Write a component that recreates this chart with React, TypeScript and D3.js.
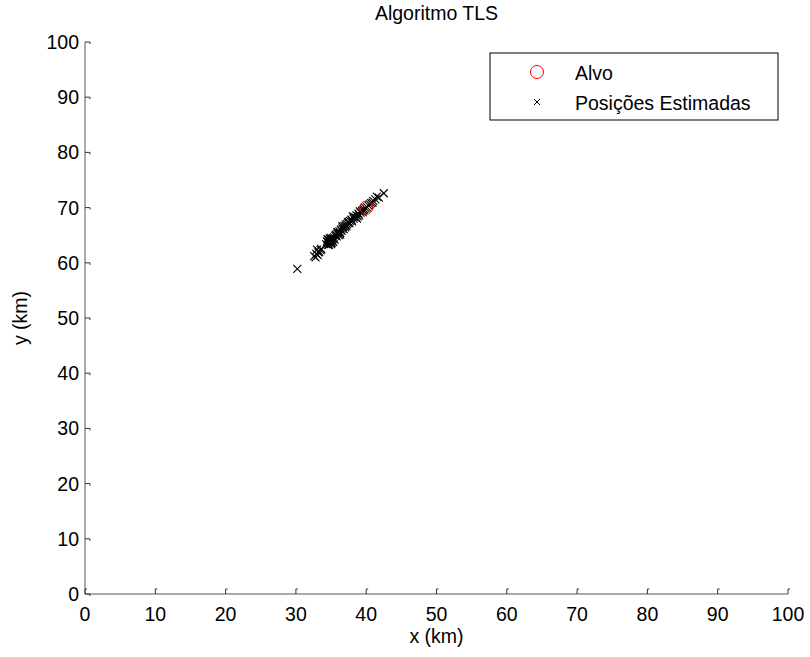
import React from "react";
import * as d3 from "d3";

const xTicks = [0, 10, 20, 30, 40, 50, 60, 70, 80, 90, 100];
const yTicks = [0, 10, 20, 30, 40, 50, 60, 70, 80, 90, 100];
const target = [40, 70];
const estX = [
  30.2, 32.6, 32.9, 33.1, 33.3, 33.5, 33.2, 32.8, 33.6, 33.0,
  34.3, 34.5, 34.6, 34.7, 34.8, 34.9, 35.0, 35.1, 34.6, 34.9, 35.2, 34.4, 35.0, 35.3, 34.7, 35.4, 35.5,
  34.5, 34.8, 35.1, 35.3, 34.6, 35.0,
  35.6, 35.7, 35.8, 35.9, 36.0, 36.1, 36.2, 36.3, 36.4, 36.5, 36.6, 36.7, 36.8, 36.9, 37.0, 37.1,
  35.9, 36.3, 36.6, 37.2, 37.5,
  37.3, 37.4, 37.6, 37.7, 37.9, 38.0, 38.2, 38.3, 38.5, 38.6, 38.8, 38.9, 39.0, 39.2, 39.4, 39.5,
  38.1, 38.7, 39.1, 39.6,
  39.7, 39.9, 40.1, 40.3, 40.5, 40.7, 41.0, 41.3, 41.5, 41.8, 42.5, 40.9,
];
const estY = [
  58.9, 61.2, 61.6, 61.4, 62.0, 62.3, 61.9, 61.0, 62.5, 62.4,
  63.4, 63.8, 63.5, 64.0, 63.7, 64.2, 63.9, 64.3, 64.1, 63.6, 64.0, 63.9, 64.5, 64.4, 63.3, 64.6, 64.2,
  64.3, 64.4, 63.6, 63.8, 63.2, 63.4,
  64.9, 65.1, 64.8, 65.3, 65.5, 65.0, 65.7, 65.4, 66.0, 65.8, 66.2, 66.5, 66.1, 66.7, 66.4, 66.9,
  65.6, 65.1, 66.6, 66.6, 67.4,
  67.0, 67.3, 67.2, 67.6, 67.8, 67.5, 68.0, 68.3, 68.2, 68.6, 68.4, 68.9, 68.6, 69.1, 69.4, 69.2,
  68.4, 68.0, 69.3, 69.5,
  69.7, 69.9, 70.1, 70.4, 70.6, 70.8, 71.2, 71.5, 72.0, 71.8, 72.6, 70.9,
];

const W = 810;
const H = 657;
const left = 85;
const right = 788;
const top = 42;
const bottom = 594;
const font = "'Liberation Sans', Arial, sans-serif";
const fs = 19.5;

export default function App() {
  const x = d3.scaleLinear().domain([0, 100]).range([left, right]);
  const y = d3.scaleLinear().domain([0, 100]).range([bottom, top]);
  const m = 4;
  const cross = (cx: number, cy: number, s: number) =>
    `M${cx - s},${cy - s}L${cx + s},${cy + s}M${cx - s},${cy + s}L${cx + s},${cy - s}`;

  return (
    <svg width={W} height={H} style={{ position: "absolute", left: 0, top: 0, background: "#fff" }}>
      <rect x={0} y={0} width={W} height={H} fill="#fff" />
      <line x1={left} y1={top} x2={left} y2={bottom} stroke="#555" strokeWidth={1} />
      <line x1={left} y1={bottom} x2={right} y2={bottom} stroke="#555" strokeWidth={1} />
      {xTicks.map((t) => (
        <g key={"xt" + t}>
          <path d={`M${x(t)},${bottom}V${bottom - 5}h2`} stroke="#333" fill="none" strokeWidth={1} />
          <text x={x(t)} y={621} textAnchor="middle" fontFamily={font} fontSize={fs} fill="#000">
            {t}
          </text>
        </g>
      ))}
      {yTicks.map((t) => (
        <g key={"yt" + t}>
          <path d={`M${left},${y(t)}H${left + 5}v2`} stroke="#333" fill="none" strokeWidth={1} />
          <text x={79} y={y(t) + 7} textAnchor="end" fontFamily={font} fontSize={fs} fill="#000">
            {t}
          </text>
        </g>
      ))}
      <text x={(left + right) / 2} y={643} textAnchor="middle" fontFamily={font} fontSize={fs} fill="#000">
        x (km)
      </text>
      <text
        transform={`translate(27,${(top + bottom) / 2}) rotate(-90)`}
        textAnchor="middle"
        fontFamily={font}
        fontSize={fs}
        fill="#000"
      >
        y (km)
      </text>
      <text x={(left + right) / 2} y={20} textAnchor="middle" fontFamily={font} fontSize={fs} fill="#000">
        Algoritmo TLS
      </text>
      {estX.map((v, i) => (
        <path key={"e" + i} d={cross(x(v), y(estY[i]), m)} stroke="#000" strokeWidth={1.1} fill="none" />
      ))}
      <circle cx={x(target[0])} cy={y(target[1])} r={6.5} fill="none" stroke="#ff0000" strokeWidth={1} />
      <rect x={490} y={53} width={288} height={67} fill="#fff" stroke="#000" strokeWidth={1} />
      <circle cx={537} cy={72} r={6.5} fill="none" stroke="#ff0000" strokeWidth={1} />
      <text x={575} y={80} fontFamily={font} fontSize={fs} fill="#000">
        Alvo
      </text>
      <path d={cross(537, 102, 3)} stroke="#000" strokeWidth={1} fill="none" />
      <text x={575} y={110} fontFamily={font} fontSize={fs} fill="#000">
        Posições Estimadas
      </text>
    </svg>
  );
}
